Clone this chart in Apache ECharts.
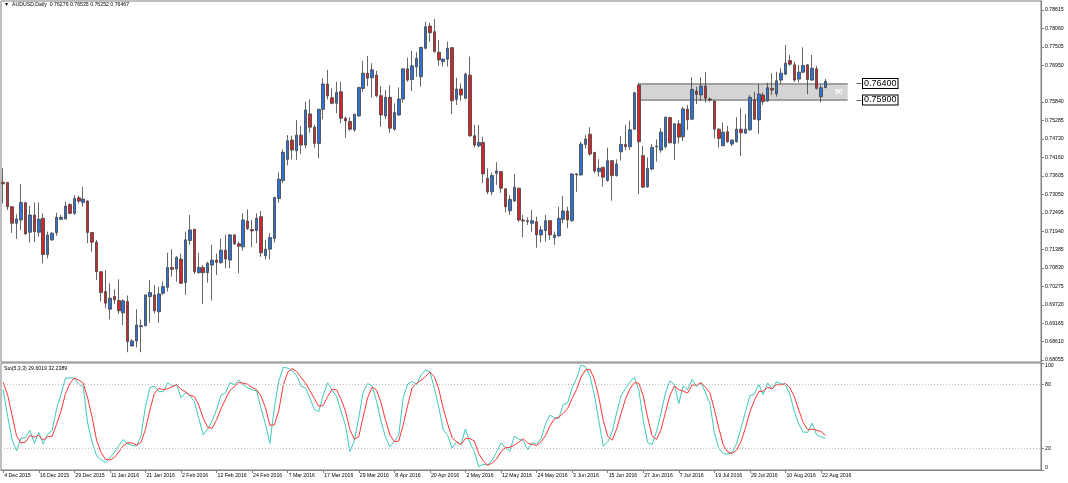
<!DOCTYPE html>
<html>
<head>
<meta charset="utf-8">
<script src="https://cdn.jsdelivr.net/npm/echarts@6/dist/echarts.min.js"></script>
<style>
  html, body { margin: 0; padding: 0; background: #fff; }
  #chart { width: 1068px; height: 483px; }
</style>
</head>
<body>
<div id="chart"></div>
<script>
// daily AUDUSD bars, [open, close, low, high]
const candles = [
  [0.7342, 0.7337, 0.7278, 0.7384], [0.7341, 0.7268, 0.7258, 0.7342], [0.7268, 0.7218, 0.7189, 0.7270], [0.7218, 0.7231, 0.7171, 0.7245],
  [0.7228, 0.7281, 0.7198, 0.7336], [0.7280, 0.7186, 0.7183, 0.7282], [0.7191, 0.7243, 0.7160, 0.7270], [0.7243, 0.7193, 0.7161, 0.7281],
  [0.7191, 0.7230, 0.7178, 0.7281], [0.7233, 0.7124, 0.7097, 0.7248], [0.7124, 0.7183, 0.7112, 0.7193], [0.7168, 0.7188, 0.7165, 0.7191],
  [0.7190, 0.7236, 0.7180, 0.7250], [0.7230, 0.7236, 0.7228, 0.7243], [0.7231, 0.7270, 0.7230, 0.7283], [0.7275, 0.7248, 0.7245, 0.7278],
  [0.7248, 0.7293, 0.7243, 0.7303], [0.7295, 0.7285, 0.7278, 0.7301], [0.7281, 0.7291, 0.7268, 0.7328], [0.7285, 0.7190, 0.7158, 0.7288],
  [0.7190, 0.7161, 0.7132, 0.7192], [0.7161, 0.7072, 0.7047, 0.7168], [0.7072, 0.7009, 0.6982, 0.7073], [0.7012, 0.6977, 0.6962, 0.7077],
  [0.6959, 0.6992, 0.6928, 0.7037], [0.6997, 0.6987, 0.6975, 0.7019], [0.6985, 0.6954, 0.6944, 0.7049], [0.6948, 0.6984, 0.6911, 0.6989],
  [0.6982, 0.6861, 0.6829, 0.7000], [0.6848, 0.6863, 0.6846, 0.6868], [0.6863, 0.6911, 0.6844, 0.6959], [0.6906, 0.6909, 0.6829, 0.6928],
  [0.6909, 0.7002, 0.6907, 0.7003], [0.6997, 0.7009, 0.6918, 0.7047], [0.7002, 0.6954, 0.6946, 0.7032], [0.6951, 0.7005, 0.6918, 0.7027],
  [0.7007, 0.7027, 0.7002, 0.7042], [0.7025, 0.7085, 0.7012, 0.7129], [0.7085, 0.7079, 0.7057, 0.7140], [0.7080, 0.7115, 0.7042, 0.7119],
  [0.7110, 0.7037, 0.7035, 0.7127], [0.7039, 0.7168, 0.7002, 0.7193], [0.7166, 0.7198, 0.7153, 0.7243], [0.7200, 0.7072, 0.7065, 0.7201],
  [0.7069, 0.7085, 0.7067, 0.7129], [0.7085, 0.7069, 0.6975, 0.7092], [0.7069, 0.7097, 0.7039, 0.7102], [0.7092, 0.7107, 0.6985, 0.7153],
  [0.7107, 0.7100, 0.7062, 0.7127], [0.7100, 0.7137, 0.7095, 0.7171], [0.7137, 0.7110, 0.7082, 0.7183], [0.7107, 0.7183, 0.7082, 0.7186],
  [0.7183, 0.7156, 0.7153, 0.7184], [0.7156, 0.7149, 0.7067, 0.7163], [0.7147, 0.7228, 0.7135, 0.7248], [0.7225, 0.7202, 0.7198, 0.7260],
  [0.7199, 0.7195, 0.7146, 0.7228], [0.7196, 0.7233, 0.7158, 0.7248], [0.7238, 0.7129, 0.7117, 0.7255], [0.7120, 0.7140, 0.7109, 0.7168],
  [0.7140, 0.7175, 0.7109, 0.7188], [0.7172, 0.7296, 0.7160, 0.7297], [0.7293, 0.7351, 0.7280, 0.7372], [0.7347, 0.7432, 0.7339, 0.7441],
  [0.7411, 0.7467, 0.7393, 0.7484], [0.7469, 0.7439, 0.7411, 0.7482], [0.7437, 0.7484, 0.7409, 0.7530], [0.7484, 0.7454, 0.7427, 0.7512],
  [0.7454, 0.7560, 0.7444, 0.7585], [0.7548, 0.7508, 0.7491, 0.7592], [0.7508, 0.7459, 0.7446, 0.7515], [0.7459, 0.7562, 0.7414, 0.7563],
  [0.7562, 0.7638, 0.7532, 0.7656], [0.7638, 0.7602, 0.7592, 0.7681], [0.7597, 0.7580, 0.7577, 0.7625], [0.7580, 0.7613, 0.7550, 0.7645],
  [0.7615, 0.7535, 0.7520, 0.7645], [0.7535, 0.7527, 0.7476, 0.7540], [0.7525, 0.7502, 0.7497, 0.7538], [0.7500, 0.7547, 0.7494, 0.7548],
  [0.7542, 0.7628, 0.7540, 0.7629], [0.7625, 0.7671, 0.7615, 0.7708], [0.7671, 0.7656, 0.7632, 0.7723], [0.7657, 0.7681, 0.7598, 0.7701],
  [0.7665, 0.7603, 0.7598, 0.7678], [0.7603, 0.7545, 0.7509, 0.7632], [0.7542, 0.7598, 0.7532, 0.7620], [0.7598, 0.7505, 0.7491, 0.7635],
  [0.7502, 0.7552, 0.7497, 0.7580], [0.7545, 0.7593, 0.7542, 0.7628], [0.7593, 0.7684, 0.7582, 0.7685], [0.7684, 0.7650, 0.7645, 0.7718],
  [0.7652, 0.7693, 0.7617, 0.7738], [0.7690, 0.7716, 0.7660, 0.7734], [0.7660, 0.7749, 0.7630, 0.7750], [0.7746, 0.7811, 0.7743, 0.7826],
  [0.7813, 0.7793, 0.7766, 0.7823], [0.7796, 0.7736, 0.7733, 0.7834], [0.7734, 0.7711, 0.7693, 0.7771], [0.7706, 0.7713, 0.7691, 0.7716],
  [0.7713, 0.7746, 0.7691, 0.7766], [0.7748, 0.7588, 0.7547, 0.7749], [0.7592, 0.7623, 0.7575, 0.7657], [0.7623, 0.7605, 0.7588, 0.7640],
  [0.7595, 0.7668, 0.7592, 0.7672], [0.7665, 0.7482, 0.7479, 0.7721], [0.7482, 0.7454, 0.7447, 0.7515], [0.7452, 0.7462, 0.7447, 0.7515],
  [0.7462, 0.7367, 0.7339, 0.7479], [0.7354, 0.7313, 0.7306, 0.7384], [0.7313, 0.7362, 0.7303, 0.7371], [0.7369, 0.7376, 0.7334, 0.7402],
  [0.7374, 0.7324, 0.7310, 0.7376], [0.7322, 0.7268, 0.7251, 0.7324], [0.7256, 0.7290, 0.7243, 0.7303], [0.7285, 0.7327, 0.7283, 0.7367],
  [0.7324, 0.7228, 0.7223, 0.7325], [0.7228, 0.7225, 0.7176, 0.7243], [0.7226, 0.7223, 0.7213, 0.7236], [0.7218, 0.7226, 0.7193, 0.7258],
  [0.7223, 0.7183, 0.7144, 0.7238], [0.7183, 0.7198, 0.7160, 0.7210], [0.7196, 0.7226, 0.7163, 0.7243], [0.7226, 0.7183, 0.7168, 0.7227],
  [0.7175, 0.7183, 0.7153, 0.7193], [0.7180, 0.7233, 0.7178, 0.7268], [0.7230, 0.7255, 0.7218, 0.7300], [0.7255, 0.7228, 0.7203, 0.7268],
  [0.7226, 0.7367, 0.7223, 0.7369], [0.7367, 0.7364, 0.7313, 0.7369], [0.7364, 0.7457, 0.7362, 0.7464], [0.7456, 0.7472, 0.7444, 0.7484],
  [0.7487, 0.7427, 0.7422, 0.7508], [0.7432, 0.7376, 0.7369, 0.7433], [0.7374, 0.7384, 0.7359, 0.7411], [0.7387, 0.7357, 0.7328, 0.7388],
  [0.7347, 0.7407, 0.7344, 0.7446], [0.7407, 0.7362, 0.7286, 0.7409], [0.7362, 0.7397, 0.7359, 0.7411], [0.7434, 0.7456, 0.7407, 0.7481],
  [0.7456, 0.7449, 0.7439, 0.7515], [0.7449, 0.7500, 0.7439, 0.7528], [0.7502, 0.7612, 0.7500, 0.7615], [0.7635, 0.7464, 0.7306, 0.7642],
  [0.7422, 0.7327, 0.7325, 0.7451], [0.7328, 0.7384, 0.7325, 0.7417], [0.7382, 0.7447, 0.7377, 0.7457], [0.7449, 0.7451, 0.7404, 0.7471],
  [0.7439, 0.7493, 0.7431, 0.7505], [0.7449, 0.7538, 0.7444, 0.7540], [0.7537, 0.7461, 0.7459, 0.7539], [0.7459, 0.7518, 0.7409, 0.7520],
  [0.7518, 0.7478, 0.7459, 0.7530], [0.7479, 0.7563, 0.7466, 0.7570], [0.7562, 0.7530, 0.7500, 0.7575], [0.7532, 0.7622, 0.7530, 0.7659],
  [0.7617, 0.7607, 0.7578, 0.7630], [0.7605, 0.7632, 0.7588, 0.7659], [0.7632, 0.7595, 0.7582, 0.7675], [0.7593, 0.7590, 0.7585, 0.7598],
  [0.7587, 0.7502, 0.7474, 0.7588], [0.7502, 0.7474, 0.7447, 0.7505], [0.7452, 0.7493, 0.7451, 0.7522], [0.7494, 0.7464, 0.7461, 0.7512],
  [0.7457, 0.7469, 0.7451, 0.7471], [0.7464, 0.7502, 0.7462, 0.7538], [0.7502, 0.7491, 0.7421, 0.7565], [0.7490, 0.7502, 0.7488, 0.7548],
  [0.7500, 0.7598, 0.7497, 0.7605], [0.7590, 0.7532, 0.7530, 0.7615], [0.7530, 0.7608, 0.7487, 0.7638], [0.7605, 0.7585, 0.7575, 0.7613],
  [0.7587, 0.7627, 0.7585, 0.7642], [0.7625, 0.7620, 0.7605, 0.7671], [0.7608, 0.7648, 0.7600, 0.7675], [0.7650, 0.7671, 0.7638, 0.7686],
  [0.7668, 0.7701, 0.7665, 0.7756], [0.7709, 0.7698, 0.7693, 0.7726], [0.7696, 0.7650, 0.7645, 0.7706], [0.7653, 0.7674, 0.7643, 0.7696],
  [0.7674, 0.7694, 0.7671, 0.7749], [0.7696, 0.7652, 0.7608, 0.7698], [0.7650, 0.7686, 0.7648, 0.7726], [0.7684, 0.7625, 0.7622, 0.7693],
  [0.7600, 0.7627, 0.7583, 0.7637], [0.76276, 0.76467, 0.76252, 0.76535]
];

// one date label every 8 bars, starting at the first bar
const tickLabels = [
  '4 Dec 2015', '16 Dec 2015', '29 Dec 2015', '11 Jan 2016', '21 Jan 2016', '2 Feb 2016',
  '12 Feb 2016', '24 Feb 2016', '7 Mar 2016', '17 Mar 2016', '29 Mar 2016', '8 Apr 2016',
  '20 Apr 2016', '2 May 2016', '12 May 2016', '24 May 2016', '3 Jun 2016', '15 Jun 2016',
  '27 Jun 2016', '7 Jul 2016', '19 Jul 2016', '29 Jul 2016', '10 Aug 2016', '22 Aug 2016'
];
const labelStep = 8;

const priceLabels = [
  0.78615, 0.78060, 0.77505, 0.76950, 0.75840, 0.75285, 0.74730, 0.74160, 0.73605, 0.73050,
  0.72495, 0.71940, 0.71385, 0.70830, 0.70275, 0.69720, 0.69165, 0.68610, 0.68055
];
const stochLabels = [0, 20, 80, 100];
const stochLevels = [20, 80];

// Sto(5,3,3) main line, one value per bar
const stochMain = [
  75, 50, 28, 18, 30, 30, 37.1, 25.0, 35.2, 24.2, 33.6, 36.9, 57.2, 70.8, 85.8, 86.0, 85.9, 80.1, 78.0, 43.7,
  26.3, 13.3, 9.8, 7.0, 11.3, 16.6, 22.8, 28.5, 24.5, 22.9, 22.4, 32.1, 59.3, 76.9, 78.4, 73.5, 73.1, 81.4, 78.2, 80.2,
  67.5, 72.2, 69.6, 64.2, 48.3, 32.9, 38.5, 45.7, 56.4, 69.8, 72.0, 81.5, 79.7, 84.2, 79.5, 76.7, 74.8, 74.1, 57.8, 42.9,
  24.8, 58.6, 82.9, 96.0, 95.2, 93.1, 88.6, 78.2, 76.8, 67.3, 56.6, 54.6, 70.0, 81.5, 74.5, 69.0, 54.7, 41.9, 17.2, 27.3,
  49.1, 73.3, 80.8, 78.8, 64.3, 45.7, 30.8, 21.8, 26.8, 32.7, 67.8, 80.4, 82.8, 79.7, 88.8, 93.4, 91.6, 76.5, 58.8, 37.9,
  32.2, 20.6, 26.3, 24.0, 38.5, 25.7, 17.2, 3.1, 5.4, 4.7, 9.3, 16.6, 25.5, 20.6, 17.5, 31.6, 28.9, 27.4, 18.9, 25.5,
  24.2, 29.4, 42.8, 51.2, 48.9, 48.2, 61.2, 62.8, 76.7, 85.7, 97.9, 96.7, 87.9, 70.4, 46.4, 22.3, 26.1, 35.4, 53.2, 69.3,
  76.0, 82.1, 86.7, 74.9, 46.6, 25.5, 23.8, 36.1, 53.3, 72.0, 83.3, 80.0, 62.1, 78.7, 75.1, 84.6, 78.2, 82.0, 72.0, 62.6,
  35.1, 20.0, 15.4, 14.8, 16.3, 24.5, 39.1, 54.4, 69.5, 70.7, 79.8, 70.5, 81.3, 75.7, 82.4, 80.7, 79.4, 70.8, 54.7, 42.8,
  35.4, 35.2, 43.8, 32.9, 31.0, 29.6019
];
// Sto(5,3,3) signal line
const stochSignal = [
  82, 70, 51, 32, 25.3, 26, 32.4, 30.7, 32.4, 28.1, 31.0, 31.6, 42.6, 55.0, 71.3, 80.9, 85.9, 84.0, 81.3, 67.3,
  49.3, 27.8, 16.5, 10.0, 9.4, 11.6, 16.9, 22.6, 25.3, 25.3, 23.3, 25.8, 37.9, 56.1, 71.5, 76.3, 75.0, 76.0, 77.6, 79.9,
  75.3, 73.3, 69.8, 68.7, 60.7, 48.5, 39.9, 39.0, 46.9, 57.3, 66.1, 74.4, 77.7, 81.8, 81.1, 80.1, 77.0, 75.2, 68.9, 58.3,
  41.8, 42.1, 55.4, 79.2, 91.4, 94.8, 92.3, 86.6, 81.2, 74.1, 66.9, 59.5, 60.4, 68.7, 75.3, 75.0, 66.1, 55.2, 37.9, 28.8,
  31.2, 49.9, 67.7, 77.6, 74.6, 62.9, 46.9, 32.8, 26.5, 27.1, 42.4, 60.3, 77.0, 81.0, 83.8, 87.3, 91.3, 87.2, 75.6, 57.7,
  43.0, 30.2, 26.4, 23.6, 29.6, 29.4, 27.1, 15.3, 8.6, 4.4, 6.5, 10.2, 17.1, 20.9, 21.2, 23.2, 26.0, 29.3, 25.1, 23.9,
  22.9, 26.4, 32.1, 41.1, 47.6, 49.4, 52.8, 57.4, 66.9, 75.1, 86.8, 93.4, 94.2, 85.0, 68.2, 46.4, 31.6, 27.9, 38.2, 52.6,
  66.2, 75.8, 81.6, 81.2, 69.4, 49.0, 32.0, 28.5, 37.7, 53.8, 69.5, 78.4, 75.1, 73.6, 72.0, 79.5, 79.3, 81.6, 77.4, 72.2,
  56.6, 39.2, 23.5, 16.7, 15.5, 18.5, 26.6, 39.3, 54.3, 64.9, 73.3, 73.7, 77.2, 75.8, 79.8, 79.6, 80.8, 77.0, 68.3, 56.1,
  44.3, 37.8, 38.1, 37.3, 35.9, 32.2389
];

const zoneTop = 0.76400;
const zoneBottom = 0.75900;
const zoneStart = 143;   // 24 Jun 2016 bar
const zoneEnd = 190;     // runs into the empty right margin
const lastPrice = 0.76467;
const futureBars = 48;   // empty space right of the last bar

const categories = Array.from({ length: candles.length + futureBars }, (_, i) => String(i));
const showTick = (idx) => idx % labelStep === 0 && idx / labelStep < tickLabels.length;

const smallFont = 'Liberation Sans';
const chart = echarts.init(document.getElementById('chart'), null, { renderer: 'canvas' });

const boxLabel = {
  show: true, position: 'end', distance: 2, fontSize: 9, color: '#000', backgroundColor: '#fff',
  borderColor: '#000', borderWidth: 1, padding: [0, 1, 0, 1]
};

const option = {
  animation: false,
  backgroundColor: '#ffffff',
  textStyle: { fontFamily: smallFont },
  grid: [
    { left: 1, top: 1, width: 1040, height: 361, show: true, borderColor: '#808080', borderWidth: 1, backgroundColor: 'transparent' },
    { left: 1, top: 363, width: 1040, height: 107, show: true, borderColor: '#808080', borderWidth: 1, backgroundColor: 'transparent' }
  ],
  xAxis: [
    {
      type: 'category', gridIndex: 0, data: categories, boundaryGap: true,
      axisLine: { show: false }, axisTick: { show: false }, axisLabel: { show: false }, splitLine: { show: false }
    },
    {
      type: 'category', gridIndex: 1, data: categories, boundaryGap: true,
      axisLine: { show: true, lineStyle: { color: '#808080' } },
      axisTick: { show: true, alignWithLabel: true, length: 3, interval: (i) => showTick(i), lineStyle: { color: '#808080' } },
      axisLabel: {
        interval: (i) => showTick(i),
        formatter: (v, i) => tickLabels[i / labelStep] || '',
        fontSize: 5.2, color: '#000', align: 'left', margin: 3, padding: [0, 0, 0, 1]
      },
      splitLine: { show: false }
    }
  ],
  yAxis: [
    {
      type: 'value', gridIndex: 0, position: 'right', min: 0.67995, max: 0.78887,
      axisLine: { show: true, lineStyle: { color: '#808080' } },
      axisTick: { show: true, customValues: priceLabels, length: 3, lineStyle: { color: '#808080' } },
      axisLabel: { customValues: priceLabels, formatter: (v) => v.toFixed(5), fontSize: 5.2, color: '#000', margin: 4 },
      splitLine: { show: false }
    },
    {
      type: 'value', gridIndex: 1, position: 'right', min: 0, max: 100,
      axisLine: { show: true, lineStyle: { color: '#808080' } },
      axisTick: { show: true, customValues: stochLabels, length: 3, lineStyle: { color: '#808080' } },
      axisLabel: {
        customValues: stochLabels, fontSize: 5.2, color: '#000', margin: 4,
        verticalAlignMaxLabel: 'top', verticalAlignMinLabel: 'bottom'
      },
      splitLine: { show: false }
    }
  ],
  series: [
    {
      // support zone drawn behind the bars
      name: 'zone', type: 'line', xAxisIndex: 0, yAxisIndex: 0, data: [], z: 1,
      markArea: {
        silent: true, z: 1,
        itemStyle: { color: '#d4d4d4' },
        label: { show: true, position: 'insideRight', formatter: '50', color: '#ffffff', fontSize: 7, fontWeight: 'bold', distance: 5 },
        data: [[{ xAxis: zoneStart, yAxis: zoneTop }, { xAxis: zoneEnd, yAxis: zoneBottom }]]
      },
      markLine: {
        silent: true, z: 1, symbol: ['none', 'none'],
        lineStyle: { color: '#a0a0a0', width: 2, type: 'solid' },
        label: { show: false },
        data: [
          [{ coord: [zoneStart, zoneTop] }, { coord: [zoneEnd, zoneTop] }],
          [{ coord: [zoneStart, zoneBottom] }, { coord: [zoneEnd, zoneBottom] }]
        ]
      }
    },
    {
      name: 'AUDUSD', type: 'candlestick', xAxisIndex: 0, yAxisIndex: 0, z: 5,
      data: candles, barWidth: 3,
      itemStyle: { color: '#2f72d6', color0: '#d3262c', borderColor: '#404040', borderColor0: '#404040', borderWidth: 0.8 },
      markLine: {
        silent: true, symbol: ['none', 'none'],
        lineStyle: { color: '#606060', width: 1, type: 'solid' },
        data: [
          [{ coord: [zoneEnd + 2, zoneTop], label: Object.assign({ formatter: zoneTop.toFixed(5) }, boxLabel) },
           { coord: [zoneEnd + 3, zoneTop] }],
          [{ coord: [zoneEnd + 2, zoneBottom], label: Object.assign({ formatter: zoneBottom.toFixed(5) }, boxLabel) },
           { coord: [zoneEnd + 3, zoneBottom] }],
          {
            yAxis: lastPrice, lineStyle: { opacity: 0 },
            label: { show: true, position: 'end', formatter: lastPrice.toFixed(5), backgroundColor: '#000', color: '#fff',
                     fontSize: 5.2, padding: [1, 3, 1, 3], distance: 2 }
          }
        ]
      }
    },
    {
      name: '%K', type: 'line', xAxisIndex: 1, yAxisIndex: 1, data: stochMain,
      symbol: 'none', lineStyle: { color: '#3fc9bb', width: 1 },
      markLine: {
        silent: true, symbol: ['none', 'none'], label: { show: false },
        lineStyle: { color: '#c0c0c0', type: [1, 2], width: 1 },
        data: stochLevels.map((v) => ({ yAxis: v }))
      }
    },
    {
      name: '%D', type: 'line', xAxisIndex: 1, yAxisIndex: 1, data: stochSignal,
      symbol: 'none', lineStyle: { color: '#ff3535', width: 1 }
    }
  ],
  graphic: [
    { type: 'text', left: 4, top: 2, style: { text: '\u25BC  AUDUSD,Daily  0.76276 0.76535 0.76252 0.76467', fontSize: 5.2, fontFamily: smallFont, fill: '#000' } },
    { type: 'text', left: 4, top: 366, style: { text: 'Sto(5,3,3) 29.6019 32.2389', fontSize: 5.2, fontFamily: smallFont, fill: '#000' } }
  ]
};

chart.setOption(option);
</script>
</body>
</html>
